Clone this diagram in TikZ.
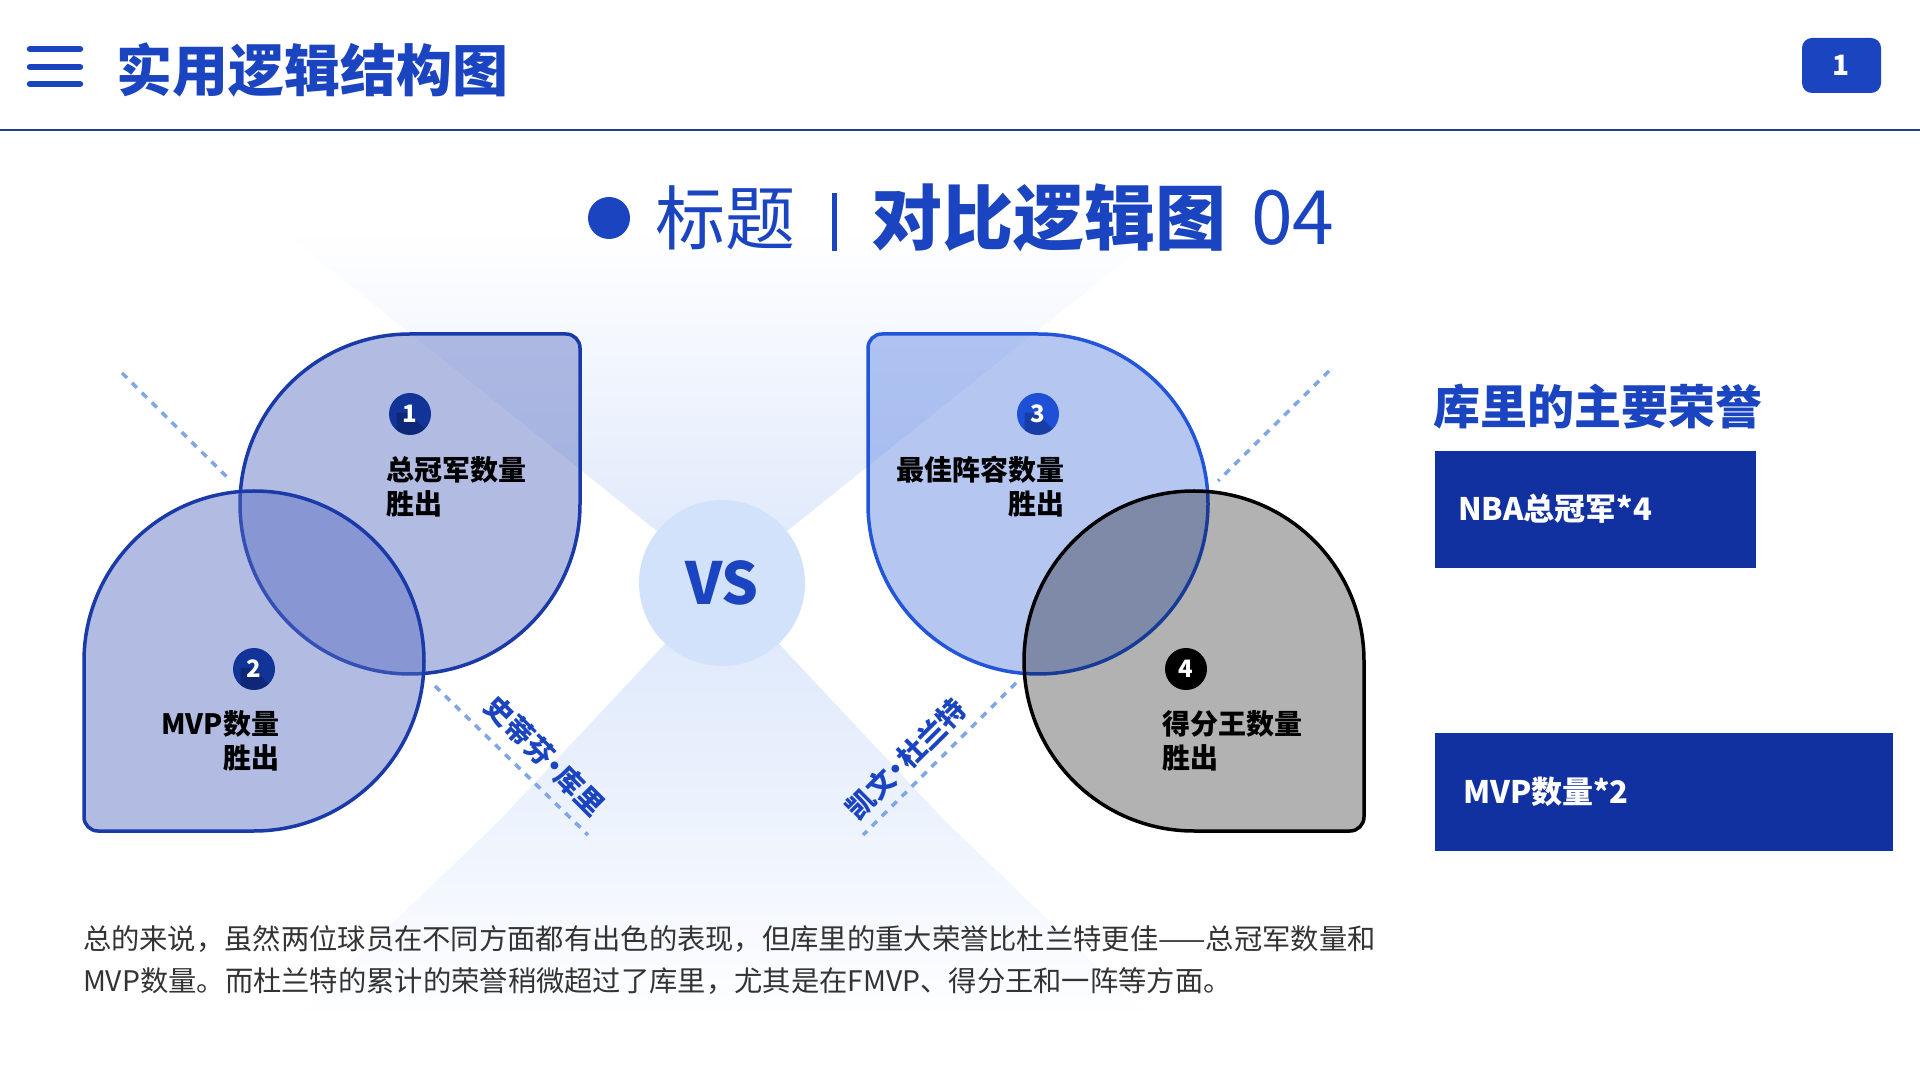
\documentclass[tikz,border=0pt]{standalone}
\usepackage{fontspec}
\setmainfont{Noto Sans CJK SC}
\definecolor{mainblue}{HTML}{1A44C0}
\definecolor{rule}{HTML}{1E3F9E}
\definecolor{darkbox}{HTML}{1131A0}
\definecolor{sAfill}{HTML}{566CC1}
\definecolor{sAdraw}{HTML}{1A3AA8}
\definecolor{sBfill}{HTML}{5B83E2}
\definecolor{sBdraw}{HTML}{2255D9}
\definecolor{dashc}{HTML}{7FA6E8}
\definecolor{ray}{HTML}{DCE7FB}
\definecolor{raymid}{HTML}{EDF3FD}
\definecolor{vsfill}{HTML}{D3E2FB}
\definecolor{bodytext}{HTML}{333333}
\definecolor{badgeA}{HTML}{123398}
\definecolor{badgeB}{HTML}{1F4FD6}
\newcommand{\fs}[1]{\fontsize{#1}{#1}\selectfont}
\newcommand{\tightdot}{\kern-0.22em•\kern-0.22em}
\begin{document}
\begin{tikzpicture}[x=1pt,y=1pt,
  every node/.style={inner sep=0pt, outer sep=0pt},
  shapeA/.style={fill=sAfill, fill opacity=0.45, draw=sAdraw, draw opacity=1, line width=3.5pt},
  shapeB/.style={fill=sBfill, fill opacity=0.45, draw=sBdraw, draw opacity=1, line width=3.5pt},
  shapeC/.style={fill=black, fill opacity=0.3, draw=black, draw opacity=1, line width=3.5pt},
  badge/.style={circle, minimum size=42pt, text=white, font=\bfseries\fs{24},
    path picture={\fill[black, opacity=0.22, shift={(path picture bounding box.center)}]
      (-6,10) -- (6,10) -- (46,-30) -- (46,-50) -- (34,-50) -- (-6,-10) -- cycle;}},
  itemtext/.style={font=\bfseries\fontsize{28}{34}\selectfont, text=black},
  dashline/.style={draw=dashc, line width=3.5pt, dash pattern=on 7pt off 7pt},
  namelabel/.style={font=\bfseries\fs{28}, text=mainblue},
  honorbox/.style={fill=darkbox},
  honortext/.style={font=\bfseries\fs{31}, text=white, anchor=west}]
\useasboundingbox (0,0) rectangle (1920,1080);
\fill[white] (0,0) rectangle (1920,1080);

% light rays
\shade[top color=white, bottom color=ray] (722,497) -- (281,850) -- (1163,850) -- cycle;
\shade[top color=raymid, bottom color=white] (500,260) -- (944,260) -- (1152,60) -- (292,60) -- cycle;
\shade[top color=ray, bottom color=raymid] (722,497) -- (500,260) -- (944,260) -- cycle;

% header
\draw[mainblue, line width=6.5pt, line cap=round] (30,1031) -- (80,1031) (30,1013) -- (80,1013) (30,996) -- (80,996);
\node[anchor=west, font=\bfseries\fs{56}, text=mainblue] (title) at (116,1010) {实用逻辑结构图};
\draw[rule, line width=2pt] (0,950) -- (1920,950);
\node[fill=mainblue, rounded corners=10pt, minimum width=79pt, minimum height=55pt, text=white, font=\bfseries\fs{28}] (page) at (1841.5,1014.5) {1};

% subtitle
\fill[mainblue] (609,862) circle (21);
\node[anchor=west, font=\fs{70}, text=mainblue] (sub1) at (655,862) {标题};
\fill[mainblue] (831.5,829) rectangle (836.5,887);
\node[anchor=west, font=\bfseries\fs{71}, text=mainblue] (sub2) at (871,862) {对比逻辑图};
\node[anchor=west, font=\fs{75}, text=mainblue] (sub3) at (1251,862) {04};

\node[circle, fill=vsfill, minimum size=166pt, font=\bfseries\fs{58}, text=mainblue] (vs) at (722,497) {VS};

% dashed lines
\coordinate (l1a) at (122,707); \coordinate (l1b) at (230,600);
\coordinate (l1c) at (435,394); \coordinate (l1d) at (588,245);
\coordinate (l2a) at (1329,709); \coordinate (l2b) at (1218,599);
\coordinate (l2c) at (1016,397); \coordinate (l2d) at (863,245);
\draw[dashline] (l1a) -- (l1b);
\draw[dashline] (l1c) -- (l1d);
\draw[dashline] (l2a) -- (l2b);
\draw[dashline] (l2c) -- (l2d);

% shapes
\draw[shapeA, shift={(410,576)}] (0,170) -- (156,170) arc[start angle=90, end angle=0, radius=14] -- (170,0) arc[start angle=0, end angle=-270, radius=170] -- cycle;
\draw[shapeA, shift={(254,419)}] (0,-170) -- (-156,-170) arc[start angle=270, end angle=180, radius=14] -- (-170,0) arc[start angle=180, end angle=-90, radius=170] -- cycle;
\draw[shapeB, shift={(1038,576)}] (0,170) -- (-156,170) arc[start angle=90, end angle=180, radius=14] -- (-170,0) arc[start angle=180, end angle=450, radius=170] -- cycle;
\draw[shapeC, shift={(1194,419)}] (0,-170) -- (156,-170) arc[start angle=-90, end angle=0, radius=14] -- (170,0) arc[start angle=0, end angle=270, radius=170] -- cycle;

% badges
\node[badge, fill=badgeA] (b1) at (410,666) {1};
\node[badge, fill=badgeA] (b2) at (254,411) {2};
\node[badge, fill=badgeB] (b3) at (1038,666) {3};
\node[badge, fill=black] (b4) at (1186,411) {4};

% item texts
\node[itemtext, anchor=west, align=left] (t1) at (386,593) {总冠军数量\\胜出};
\node[itemtext, anchor=east, align=right] (t2) at (279,339) {MVP数量\\胜出};
\node[itemtext, anchor=east, align=right] (t3) at (1064,593) {最佳阵容数量\\胜出};
\node[itemtext, anchor=west, align=left] (t4) at (1162,339) {得分王数量\\胜出};

% player names
\node[namelabel, rotate=-45] (curry) at (545,324) {史蒂芬\tightdot 库里};
\node[namelabel, rotate=45] (durant) at (906,321) {凯文\tightdot 杜兰特};

% right panel
\node[anchor=west, font=\bfseries\fs{47}, text=mainblue] (honors) at (1433,673) {库里的主要荣誉};
\fill[honorbox] (1435,512) rectangle (1756,629);
\node[honortext] (h1) at (1458,571) {NBA总冠军*4};
\fill[honorbox] (1435,229) rectangle (1893,347);
\node[honortext] (h2) at (1463,288) {MVP数量*2};

% paragraph
\node[anchor=west, align=left, font=\fontsize{28.3}{42}\selectfont, text=bodytext] (para) at (83,120)
  {总的来说，虽然两位球员在不同方面都有出色的表现，但库里的重大荣誉比杜兰特更佳——总冠军数量和\\MVP数量。而杜兰特的累计的荣誉稍微超过了库里，尤其是在FMVP、得分王和一阵等方面。};
\end{tikzpicture}
\end{document}
